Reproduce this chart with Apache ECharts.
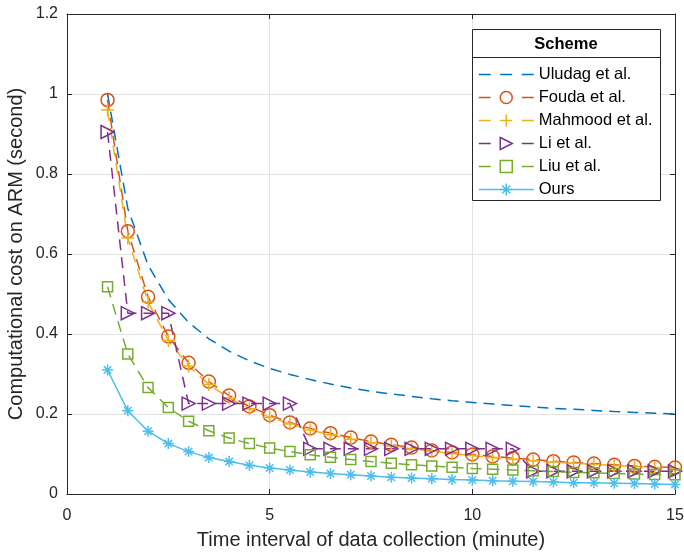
<!DOCTYPE html>
<html><head><meta charset="utf-8">
<script src="https://cdn.jsdelivr.net/npm/echarts@6/dist/echarts.min.js"></script>
<style>html,body{margin:0;padding:0;background:#fff}#c{width:684px;height:552px}</style>
</head><body><div id="c"></div>
<script>
// ---- data ----
const xValues = [1,1.5,2,2.5,3,3.5,4,4.5,5,5.5,6,6.5,7,7.5,8,8.5,9,9.5,10,10.5,11,11.5,12,12.5,13,13.5,14,14.5,15];
const uludag  = [1.000,0.714,0.572,0.486,0.429,0.388,0.357,0.333,0.314,0.299,0.286,0.275,0.265,0.257,0.250,0.244,0.238,0.233,0.229,0.225,0.221,0.218,0.214,0.212,0.209,0.206,0.204,0.202,0.200];
const fouda   = [0.985,0.657,0.493,0.394,0.328,0.281,0.246,0.219,0.197,0.179,0.164,0.152,0.141,0.131,0.123,0.116,0.109,0.104,0.099,0.094,0.090,0.086,0.082,0.079,0.076,0.073,0.070,0.068,0.066];
const mahmood = [0.960,0.640,0.480,0.384,0.320,0.274,0.240,0.213,0.192,0.175,0.160,0.148,0.137,0.128,0.120,0.113,0.107,0.101,0.096,0.091,0.087,0.083,0.080,0.077,0.074,0.071,0.069,0.066,0.064];
const li      = [0.905,0.452,0.452,0.452,0.226,0.226,0.226,0.226,0.226,0.226,0.113,0.113,0.113,0.113,0.113,0.113,0.113,0.113,0.113,0.113,0.113,0.057,0.057,0.057,0.057,0.057,0.057,0.057,0.057];
const liu     = [0.518,0.350,0.266,0.216,0.182,0.158,0.140,0.126,0.115,0.106,0.098,0.092,0.086,0.081,0.077,0.073,0.070,0.067,0.064,0.062,0.060,0.058,0.056,0.054,0.053,0.051,0.050,0.049,0.048];
const ours    = [0.310,0.208,0.157,0.126,0.106,0.091,0.081,0.072,0.065,0.060,0.055,0.051,0.048,0.045,0.042,0.040,0.038,0.036,0.035,0.033,0.032,0.031,0.030,0.028,0.028,0.027,0.026,0.025,0.024];
const seriesNames = ['Uludag et al.','Fouda et al.','Mahmood et al.','Li et al.','Liu et al.','Ours'];
const xTicks = [0,5,10,15];
const yTicks = [0,0.2,0.4,0.6,0.8,1,1.2];
const legendTitle = 'Scheme';
const xName = 'Time interval of data collection (minute)';
const yName = 'Computational cost on ARM (second)';

// ---- style ----
const FONT = '"Liberation Sans", Arial, Helvetica, sans-serif';
const AX = '#262626';
const GRIDC = '#e3e3e3';
const PLUS = 'path://M5 0L5 10M0 5L10 5';
const STAR = 'path://M5 0L5 10M0 5L10 5M1.6 1.6L8.4 8.4M1.6 8.4L8.4 1.6';
const TRI = 'path://M0 0L10 5L0 10Z';
const DASHSYM = 'path://M0 0L0 0M0 5L10 5M10 10L10 10';
const DASH = [11,7];

function pairs(arr){ return xValues.map((x,i)=>[x, arr[i]]); }
function mk(name, arr, color, symbol, size, dashed, show){
  return {
    name, type:'line', data: pairs(arr), symbol, symbolSize: size,
    showSymbol: show, showAllSymbol: true, animation:false,
    lineStyle:{color, width:1.5, type: dashed ? DASH : 'solid'},
    itemStyle:{color:'rgba(0,0,0,0)', borderColor: color, borderWidth:1.5},
    emphasis:{disabled:true}
  };
}
const series = [
  mk(seriesNames[0], uludag, '#0072BD', DASHSYM, 11, true, false),
  mk(seriesNames[1], fouda, '#D95319', 'circle', 13, true, true),
  mk(seriesNames[2], mahmood, '#EDB120', PLUS, 13, true, true),
  mk(seriesNames[3], li, '#7E2F8E', TRI, 13, true, true),
  mk(seriesNames[4], liu, '#77AC30', 'rect', 10, true, true),
  mk(seriesNames[5], ours, '#4DBEEE', STAR, 11, false, true)
];

const chart = echarts.init(document.getElementById('c'), null, {renderer:'canvas'});
const axisCommon = {
  axisLine:{show:true, onZero:false, lineStyle:{color:AX, width:1}},
  axisTick:{show:true, inside:true, length:5, lineStyle:{color:AX, width:1}}
};
chart.setOption({
  animation:false,
  backgroundColor:'#fff',
  grid:{left:67, right:9, top:14, bottom:58, containLabel:false, outerBoundsMode:'none'},
  xAxis:[
    Object.assign({type:'value', min:xTicks[0], max:xTicks[xTicks.length-1], interval:xTicks[1]-xTicks[0], position:'bottom',
      name:xName, nameLocation:'middle', nameGap:36, nameMoveOverlap:false,
      nameTextStyle:{fontFamily:FONT, fontSize:20, color:AX},
      axisLabel:{fontFamily:FONT, fontSize:16, color:AX, margin:14},
      splitLine:{show:true, lineStyle:{color:GRIDC, width:1}}}, axisCommon),
    Object.assign({type:'value', min:xTicks[0], max:xTicks[xTicks.length-1], interval:xTicks[1]-xTicks[0], position:'top',
      axisLabel:{show:false}, splitLine:{show:false}}, axisCommon)
  ],
  yAxis:[
    Object.assign({type:'value', min:yTicks[0], max:yTicks[yTicks.length-1], interval:0.2, position:'left',
      name:yName, nameLocation:'middle', nameGap:41, nameMoveOverlap:false,
      nameTextStyle:{fontFamily:FONT, fontSize:20, color:AX},
      axisLabel:{fontFamily:FONT, fontSize:16, color:AX, margin:9},
      splitLine:{show:true, lineStyle:{color:GRIDC, width:1}}}, axisCommon),
    Object.assign({type:'value', min:yTicks[0], max:yTicks[yTicks.length-1], interval:0.2, position:'right',
      axisLabel:{show:false}, splitLine:{show:false}}, axisCommon)
  ],
  legend:{
    orient:'vertical', left:478, top:66, padding:0, itemWidth:55, itemHeight:15, itemGap:6,
    selectedMode:false, z:6,
    textStyle:{fontFamily:FONT, fontSize:16.5, color:'#000', lineHeight:15},
    itemStyle:{borderWidth:1.5},
    lineStyle:{width:1.5},
    data: seriesNames.map((n,i)=>({name:n, lineStyle:{type: i===5 ? 'solid' : [12,31]}}))
  },
  graphic:[
    {type:'rect', z:5, shape:{x:472.5, y:29.5, width:188, height:171}, style:{fill:'#fff', stroke:AX, lineWidth:1}},
    {type:'line', z:5, shape:{x1:472.5, y1:57.5, x2:660.5, y2:57.5}, style:{stroke:AX, lineWidth:1}},
    {type:'text', z:7, x:566, y:44, style:{text:legendTitle, font:'bold 16.5px '+FONT, fill:'#000', align:'center', verticalAlign:'middle', textAlign:'center', textVerticalAlign:'middle'}}
  ],
  series
});
</script></body></html>
